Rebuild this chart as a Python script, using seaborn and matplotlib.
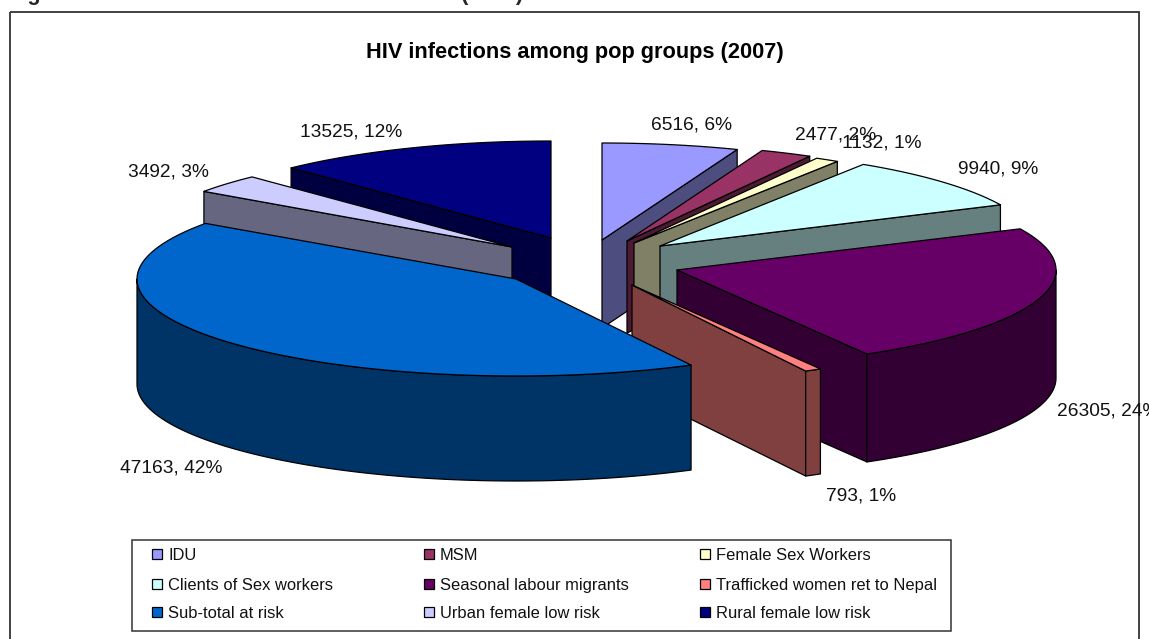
#!/usr/bin/env python3
"""HIV infections among pop groups (2007): exploded 3D style pie"""
import matplotlib
matplotlib.use('Agg')
import matplotlib.pyplot as plt
from matplotlib.patches import Polygon, Rectangle
import numpy as np
import seaborn as sns

groups = ['IDU', 'MSM', 'Female Sex Workers', 'Clients of Sex workers',
          'Seasonal labour migrants', 'Trafficked women ret to Nepal',
          'Sub-total at risk', 'Urban female low risk', 'Rural female low risk']
infections = [6516, 2477, 1132, 9940, 26305, 793, 47163, 3492, 13525]
colors = ['#9999FF', '#993366', '#FFFFCC', '#CCFFFF', '#660066',
          '#FF8080', '#0066CC', '#CCCCFF', '#000080']

# ---- layout, in pixels ----
RY = 97
radius_x = [376, 376, 376, 376, 379, 376, 379, 376, 376]
apex = [(602, 240), (627, 241), (634, 243), (660, 246), (677, 270),
        (632, 285), (516, 279), (512, 247), (551, 238)]
depth = [88, 92, 92, 95, 108, 105, 105, 90, 90]
label_pos = [(651, 123), (795, 133), (842, 141), (958, 167), (1057, 409),
             (826, 494), (120, 466), (128, 170), (300, 130)]
paint_order = [8, 7, 0, 1, 2, 3, 4, 5, 6]
legend_x = [152, 424, 700]
legend_y = [554, 584, 612]

sns.set_theme(style='white')
plt.rcParams['font.family'] = ['Liberation Sans', 'DejaVu Sans']
palette = sns.color_palette(colors)

fig = plt.figure(figsize=(11.49, 6.39), dpi=100, facecolor='white')
ax = fig.add_axes([0, 0, 1, 1])
ax.set_xlim(0, 1149)
ax.set_ylim(639, 0)
ax.axis('off')


def rim_xy(i, a0, a1, n=80):
    t = np.radians(np.linspace(a0, a1, n))
    c = apex[i]
    return np.column_stack([c[0] + radius_x[i] * np.sin(t), c[1] - RY * np.cos(t)])


def shape(xy, color, z):
    ax.add_patch(Polygon(xy, closed=True, facecolor=color, edgecolor='black',
                         linewidth=0.9, joinstyle='round', zorder=z))


def draw_slice(i, a0, a1, z):
    c, d = apex[i], depth[i]
    top = palette[i]
    side = tuple(np.array(top) * 0.5)
    # cut faces that look towards the viewer
    if 0 < a1 < 180:
        p = rim_xy(i, a1, a1, 1)[0]
        shape([c, p, (p[0], p[1] + d), (c[0], c[1] + d)], side, z)
    if 180 < a0 < 360:
        p = rim_xy(i, a0, a0, 1)[0]
        shape([c, p, (p[0], p[1] + d), (c[0], c[1] + d)], side, z)
    # outer wall, only the front half of the circle
    lo, hi = max(a0, 90), min(a1, 270)
    if lo < hi:
        r = rim_xy(i, lo, hi)
        shape(np.vstack([r, r[::-1] + [0, d]]), side, z)
    # top
    shape(np.vstack([[c], rim_xy(i, a0, a1)]), top, z + 0.5)


shares = np.array(infections) / sum(infections)
ends = np.cumsum(shares) * 360
starts = ends - shares * 360
for z, i in enumerate(paint_order):
    draw_slice(i, starts[i], ends[i], z + 1)

# chart frame, bottom edge is cut off by the crop
ax.add_patch(Rectangle((10, 12), 1129, 660, fill=False, edgecolor='#333333',
                       linewidth=1.3, zorder=0.5))

for i, (x, y) in enumerate(label_pos):
    ax.text(x, y, f'{infections[i]}, {shares[i] * 100:.0f}%', fontsize=13.8,
            color='#111111', va='center_baseline', ha='left', zorder=30)

ax.text(574.5, 50, 'HIV infections among pop groups (2007)', fontsize=15.7,
        fontweight='bold', color='black', ha='center', va='center_baseline', zorder=30)
# caption above the chart, only its descenders survive the crop
ax.text(8, 0, 'Figure', fontsize=15.7, fontweight='bold', va='baseline', zorder=30)
ax.text(461, 0, '(2007)', fontsize=15.7, fontweight='bold', va='baseline', zorder=30)

# legend: Excel spaces the columns evenly, a matplotlib legend can't
ax.add_patch(Rectangle((132, 540), 819, 91, facecolor='white', edgecolor='#333333',
                       linewidth=1.1, zorder=25))
for i, name in enumerate(groups):
    row, col = divmod(i, 3)
    ax.add_patch(Rectangle((legend_x[col], legend_y[row] - 5), 10, 10,
                           facecolor=palette[i], edgecolor='black',
                           linewidth=0.9, zorder=26))
    ax.text(legend_x[col] + 16, legend_y[row], name, fontsize=11.9, color='#111111',
            va='center_baseline', ha='left', zorder=26)

fig.savefig('out.png', dpi=100, facecolor='white')
